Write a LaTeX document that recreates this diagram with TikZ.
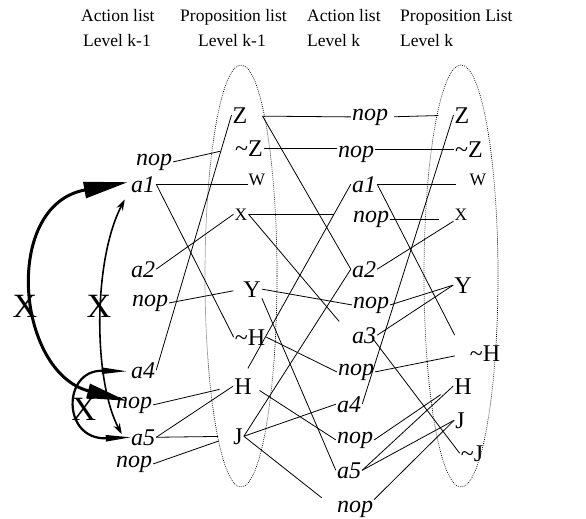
\documentclass[tikz,border=0pt]{standalone}
\usepackage{fontspec}
\setmainfont{Liberation Serif}
\usetikzlibrary{arrows.meta,calc}
\begin{document}
\begin{tikzpicture}[x=1pt,y=-1pt,
  act/.style={font=\fontsize{24}{24}\selectfont\itshape, inner sep=1pt, anchor=base},
  prop/.style={font=\fontsize{24}{24}\selectfont, inner sep=1pt, anchor=base},
  sprop/.style={font=\fontsize{17.5}{17.5}\selectfont, inner sep=1pt, anchor=base},
  hdr/.style={font=\fontsize{17.5}{17.5}\selectfont, inner sep=0pt, anchor=base west},
  mx/.style={font=\fontsize{34}{34}\selectfont, inner sep=0pt, anchor=base},
  link/.style={line width=0.8pt},
  oval/.style={line width=0.7pt, dash pattern=on 0.8pt off 1.2pt},
  thickarc/.style={line width=3pt, {Triangle[length=40pt,width=14pt]}-{Triangle[length=44pt,width=16pt]}},
  medarc/.style={line width=1.6pt, {Stealth[length=11pt,width=7pt]}-{Stealth[length=11pt,width=7pt]}},
  smallarc/.style={line width=2.2pt, {Triangle[length=26pt,width=6pt]}-{Triangle[length=26pt,width=6pt]}}
]
\useasboundingbox (0,0) rectangle (586,519);

% headers
\node[hdr] (h1a) at (81,22) {Action list};
\node[hdr] (h1b) at (83,47) {Level k-1};
\node[hdr] (h2a) at (180,22) {Proposition list};
\node[hdr] (h2b) at (198,47) {Level k-1};
\node[hdr] (h3a) at (307,22) {Action list};
\node[hdr] (h3b) at (307,47) {Level k};
\node[hdr] (h4a) at (400,22) {Proposition List};
\node[hdr] (h4b) at (400,47) {Level k};

% ovals
\draw[oval] (241,276) ellipse [x radius=36, y radius=211];
\draw[oval] (461,276) ellipse [x radius=37, y radius=211];

% column 1: actions level k-1
\node[act] (aNopZn) at (154,165) {nop};
\node[act] (aA1) at (143,192) {a1};
\node[act] (aA2) at (143,277) {a2};
\node[act] (aNopY) at (150,306) {nop};
\node[act] (aA4) at (143,378) {a4};
\node[act] (aNopH) at (134,408) {nop};
\node[act] (aA5) at (143,445) {a5};
\node[act] (aNopJ) at (134,467) {nop};

% column 2: propositions level k-1
\node[prop] (pZ) at (240,123) {Z};
\node[prop] (pnZ) at (249,156) {\textasciitilde Z};
\node[sprop] (pW) at (257,185) {W};
\node[sprop] (pX) at (241,220) {X};
\node[prop] (pY) at (252,297) {Y};
\node[prop] (pnH) at (250,345) {\textasciitilde H};
\node[prop] (pH) at (243,394) {H};
\node[prop] (pJ) at (238,444) {J};

% column 3: actions level k
\node[act] (bNopZ) at (370,120) {nop};
\node[act] (bNopnZ) at (356,157) {nop};
\node[act] (bA1) at (364,192) {a1};
\node[act] (bNopX) at (371,222) {nop};
\node[act] (bA2) at (364,277) {a2};
\node[act] (bNopY) at (371,308) {nop};
\node[act] (bA3) at (364,343) {a3};
\node[act] (bNopnH) at (356,375) {nop};
\node[act] (bA4) at (349,412) {a4};
\node[act] (bNopH) at (355,443) {nop};
\node[act] (bA5) at (349,478) {a5};
\node[act] (bNopJ) at (355,512) {nop};

% column 4: propositions level k
\node[prop] (qZ) at (462,123) {Z};
\node[prop] (qnZ) at (469,157) {\textasciitilde Z};
\node[sprop] (qW) at (478,185) {W};
\node[sprop] (qX) at (461,220) {X};
\node[prop] (qY) at (463,293) {Y};
\node[prop] (qnH) at (485,361) {\textasciitilde H};
\node[prop] (qH) at (463,394) {H};
\node[prop] (qJ) at (460,428) {J};
\node[prop] (qnJ) at (472,461) {\textasciitilde J};

% links col1 - col2
\draw[link, shorten >=14pt] (aNopZn.east) -- (pnZ.west);
\draw[link] (aA1.east) -- (aA1.east -| pW.west);
\draw[link] (aA1.east) -- (pnH.west);
\draw[link] (aA2.east) -- (pX.west);
\draw[link] (pZ.west) -- (aA4.east);
\draw[link, shorten >=9pt] (aNopY.east) -- (pY.west);
\draw[link, shorten >=14pt] (aNopH.east) -- (pH.west);
\draw[link] (aA5.east) -- (pH.west);
\draw[link, shorten >=14pt] (aA5.east) -- (pJ.west);
\draw[link, shorten >=14pt] (aNopJ.east) -- (pJ.west);

% links col2 - col3
\draw[link] ($(pZ.east)+(14,1)$) -- (bNopZ.west);
\draw[link] ($(pZ.east)+(14,1)$) -- (bA2.west);
\draw[link] (pnZ.east) -- (pnZ.east -| bNopnZ.west);
\draw[link, shorten >=10pt] (bA1.west) -- (pH.north);
\draw[link, shorten >=18pt] (pX.east) -- (pX.east -| bNopX.west);
\draw[link, shorten >=18pt] (pX.east) -- (bA3.west);
\draw[link] (pY.east) -- (bNopY.west);
\draw[link] (pY.south east) -- (bA5.west);
\draw[link] (pnH.east) -- (bNopnH.west);
\draw[link, shorten <=8pt] (pH.east) -- (bNopH.west);
\draw[link] (pJ.east) -- (bA4.west);
\draw[link] (pJ.east) -- (bA2.west);
\draw[link, shorten >=18pt] (pJ.east) -- (bNopJ.west);

% links col3 - col4
\draw[link, shorten <=5pt, shorten >=15pt] (bNopZ.east) -- (qZ.west);
\draw[link] (bNopnZ.east |- qnZ.west) -- (qnZ.west);
\draw[link, shorten >=13pt] (bA1.east) -- (bA1.east -| qW.west);
\draw[link] (bA1.east) -- ($(qnH.north west)+(-14,-9)$);
\draw[link, shorten >=14pt] (bNopX.east) -- (bNopX.east -| qX.west);
\draw[link] (qZ.west) -- (bA4.east);
\draw[link] (bA2.east) -- (qX.south west);
\draw[link] (qY.west) -- (bNopY.east);
\draw[link] (qY.west) -- (bA3.east);
\draw[link, shorten <=-8pt] (bA3.south east) -- (qnJ.west);
\draw[link, shorten >=14pt] (bNopnH.east) -- (qnH.west);
\draw[link] (bA5.east) -- (qH.west);
\draw[link, shorten >=15pt] (bNopH.east) -- (qH.west);
\draw[link] (bA5.east) -- (qJ.west);
\draw[link] (bNopJ.north east) -- (qJ.west);

% mutex arcs
\draw[thickarc] ($(aNopH.west)+(12,-4)$) .. controls (16,372) and (2,205) .. ($(aA1.west)+(-2,-2)$);
\draw[medarc] ($(aA5.west)+(-8,-3)$) .. controls (93,380) and (93,260) .. ($(aA1.south west)+(-5,6)$);
\draw[smallarc] ($(aA4.west)+(-2,1)$) .. controls (62,370) and (62,440) .. ($(aA5.west)+(2,0)$);
\node[mx] (x1) at (25,317) {X};
\node[mx] (x2) at (99,317) {X};
\node[mx] (x3) at (84,420) {X};
\end{tikzpicture}
\end{document}
